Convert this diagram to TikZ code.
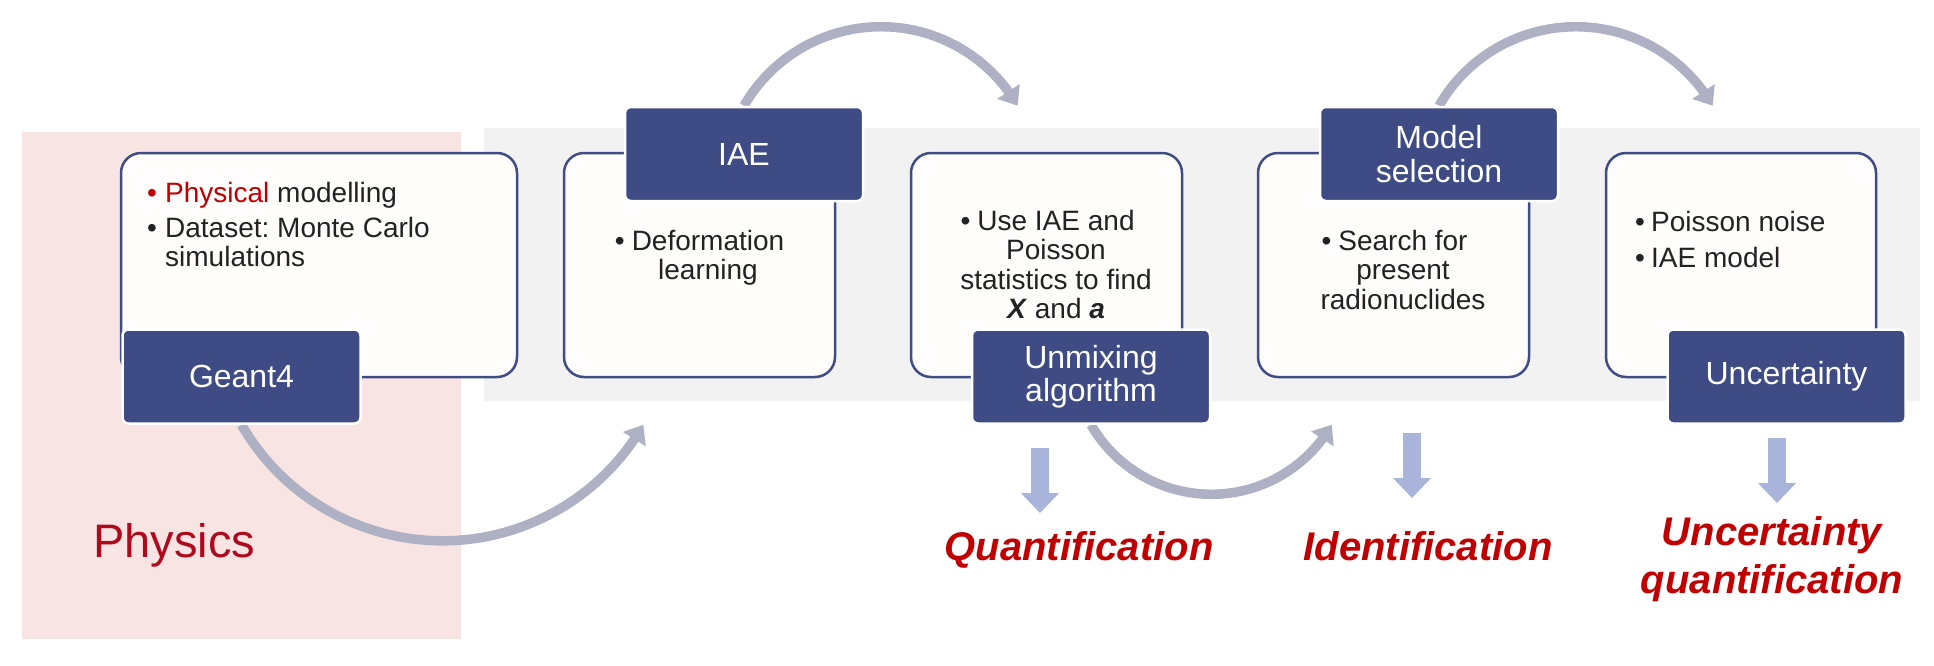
\documentclass[tikz,border=0pt]{standalone}
\usepackage{fontspec}
\setmainfont{Liberation Sans}
\usetikzlibrary{arrows.meta,bending}
\definecolor{navy}{HTML}{3E4B84}
\definecolor{cardline}{HTML}{3F4C85}
\definecolor{cardfill}{HTML}{FEFDFC}
\definecolor{bodytext}{HTML}{222222}
\definecolor{resred}{HTML}{C00000}
\definecolor{physred}{HTML}{AE0A1E}
\definecolor{arcgray}{HTML}{AEB1C3}
\definecolor{downblue}{HTML}{A9B4DA}
\definecolor{bandgray}{HTML}{F2F2F2}
\definecolor{pinkbg}{HTML}{F7E4E3}
\pgfdeclarelayer{bg}
\pgfdeclarelayer{arcs}
\pgfsetlayers{bg,arcs,main}
\frenchspacing
\begin{document}
\begin{tikzpicture}[x=1pt,y=1pt,
  card/.style={draw=cardline, line width=2.5pt, fill=cardfill, rounded corners=20pt,
    minimum width=271pt, minimum height=224pt, inner sep=0pt},
  tab/.style={fill=navy, draw=white, line width=2.5pt, rounded corners=6pt,
    minimum width=238pt, minimum height=94pt, text=white,
    font=\fontsize{32}{33.5}\selectfont, align=center, inner sep=0pt},
  body/.style={text=bodytext, font=\fontsize{28}{29.5}\selectfont, inner sep=0pt},
  result/.style={text=resred, font=\fontsize{40}{48}\selectfont\bfseries\itshape, inner sep=0pt},
  flow/.style={draw=arcgray, line width=9.5pt, -{Triangle[width=26pt,length=17pt]}},
  outarrow/.style={draw=downblue, line width=18pt, -{Triangle[width=37pt,length=20pt]}}
]
\useasboundingbox (0,0) rectangle (1934,-665);

\begin{pgfonlayer}{bg}
  \fill[bandgray] (484,-128) rectangle (1920,-401);
  \fill[pinkbg] (22,-132) rectangle (461,-639);
\end{pgfonlayer}

% cards
\node[card, minimum width=396pt] (c1) at (319,-265) {};
\node[card] (c2) at (699.5,-265) {};
\node[card] (c3) at (1046.5,-265) {};
\node[card] (c4) at (1393.5,-265) {};
\node[card, minimum width=270pt] (c5) at (1741,-265) {};

% tabs
\node[tab] (geant) at (241.5,-376.5) {Geant4};
\node[tab] (iae) at (744,-154) {IAE};
\node[tab] (unmix) at (1091,-376.5) {Unmixing\\algorithm};
\node[tab] (model) at (1439,-154) {Model\\selection};
\node[tab] (unc) at (1786.5,-376.5) {Uncertainty};

% card texts
\node[body, anchor=base west] (t1) at (147,-202) {\begin{tabular}[t]{@{}l@{}l@{}}
  \makebox[18pt][l]{\textcolor{resred}{•}} & \textcolor{resred}{Physical} modelling\\[5.5pt]
  \makebox[18pt][l]{•} & Dataset: Monte Carlo\\
   & simulations
\end{tabular}};
\node[body, anchor=base] (t2) at (708,-250) {\begin{tabular}[t]{@{}c@{}}
  \llap{•\hspace{7pt}}Deformation\\ learning
\end{tabular}};
\node[body, anchor=base] (t3) at (1056,-230) {\begin{tabular}[t]{@{}c@{}}
  \llap{•\hspace{7pt}}Use IAE and\\ Poisson\\ statistics to find\\
  \textbf{\textit{X}} and \textbf{\textit{a}}
\end{tabular}};
\node[body, anchor=base] (t4) at (1403,-250) {\begin{tabular}[t]{@{}c@{}}
  \llap{•\hspace{7pt}}Search for\\ present\\ radionuclides
\end{tabular}};
\node[body, anchor=base west] (t5) at (1635,-231) {\begin{tabular}[t]{@{}l@{}l@{}}
  \makebox[16pt][l]{•} & Poisson noise\\[6.5pt]
  \makebox[16pt][l]{•} & IAE model
\end{tabular}};

% physics label
\node[anchor=base west, text=physred, font=\fontsize{47}{50}\selectfont, inner sep=0pt] (phys) at (93,-557) {Physics};

% results
\node[result, anchor=base] (quant) at (1079,-560) {Quantification};
\node[result, anchor=base] (ident) at (1428,-560) {Identification};
\node[result, anchor=base] (uq) at (1772,-545) {\begin{tabular}[t]{@{}c@{}}Uncertainty\\quantification\end{tabular}};

% flow arcs
\begin{pgfonlayer}{arcs}
  \draw[flow] (geant.south) arc[start angle=210, end angle=330, radius=232pt];
  \draw[flow] (iae.north) arc[start angle=150, end angle=30, radius=158pt];
  \draw[flow] (unmix.south) arc[start angle=210, end angle=330, radius=139pt];
  \draw[flow] (model.north) arc[start angle=150, end angle=30, radius=158pt];
\end{pgfonlayer}

% output arrows
\coordinate (qa1) at (1040,-448); \coordinate (qa2) at (1040,-513);
\coordinate (ia1) at (1412,-433); \coordinate (ia2) at (1412,-498);
\coordinate (ua1) at (1777,-438); \coordinate (ua2) at (1777,-503);
\draw[outarrow] (qa1) -- (qa2);
\draw[outarrow] (ia1) -- (ia2);
\draw[outarrow] (ua1) -- (ua2);
\end{tikzpicture}
\end{document}
